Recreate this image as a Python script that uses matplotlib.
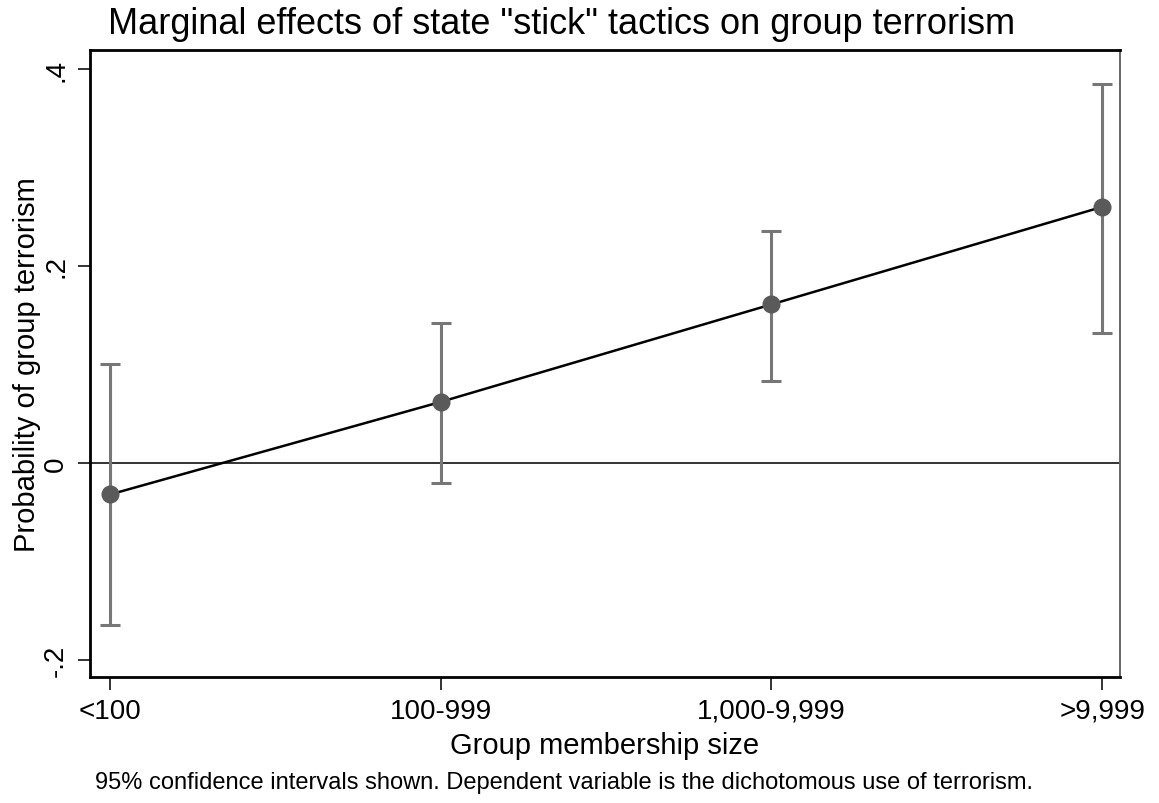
import matplotlib
matplotlib.use("Agg")
import matplotlib.pyplot as plt

categories = ["<100", "100-999", "1,000-9,999", ">9,999"]
estimates = [-0.032, 0.062, 0.161, 0.260]
ci_low = [-0.165, -0.020, 0.083, 0.132]
ci_high = [0.100, 0.142, 0.236, 0.385]
yticks = [-0.2, 0.0, 0.2, 0.4]
ytick_labels = ["-.2", "0", ".2", ".4"]

plt.rcParams['font.family'] = ['Liberation Sans', 'DejaVu Sans']

fig = plt.figure(figsize=(11.59, 8.04), dpi=100)
ax = fig.add_axes([90/1159, 1-678/804, (1120-90)/1159, (678-51)/804])

x = list(range(1, len(categories) + 1))
yerr = [[e - l for e, l in zip(estimates, ci_low)], [h - e for e, h in zip(estimates, ci_high)]]

ax.axhline(0, color="#333333", lw=1.4, zorder=1)
ax.errorbar(x, estimates, yerr=yerr, fmt="none", ecolor="#777777", elinewidth=2.2,
            capsize=7, capthick=2.2, zorder=2)
ax.plot(x, estimates, color="black", lw=1.8, zorder=3)
ax.plot(x, estimates, "o", color="#5a5a5a", ms=12, zorder=4)

ax.set_xlim(0.9395, 4.054)
ax.set_ylim(-0.2173, 0.4193)
ax.set_xticks(x)
ax.set_xticklabels(categories, fontsize=20)
ax.set_yticks(yticks)
ax.set_yticklabels(ytick_labels, fontsize=20, rotation=90, va="center")
ax.tick_params(axis="both", direction="out", length=9, width=1.4, color="#333333", pad=6)

for side in ["left", "bottom", "top"]:
    ax.spines[side].set_linewidth(2.0)
    ax.spines[side].set_color("black")
ax.spines["right"].set_linewidth(1.4)
ax.spines["right"].set_color("#666666")

ax.set_xlabel("Group membership size", fontsize=21, labelpad=5)
ax.set_ylabel("Probability of group terrorism", fontsize=21, labelpad=1.5)
fig.text(95/1159, 1-783/804, "95% confidence intervals shown. Dependent variable is the dichotomous use of terrorism.",
         fontsize=17, va="center", ha="left")
fig.text(108/1159, 1-25/804, 'Marginal effects of state "stick" tactics on group terrorism',
         fontsize=26, va="center", ha="left")

fig.savefig("out.png", dpi=100)
